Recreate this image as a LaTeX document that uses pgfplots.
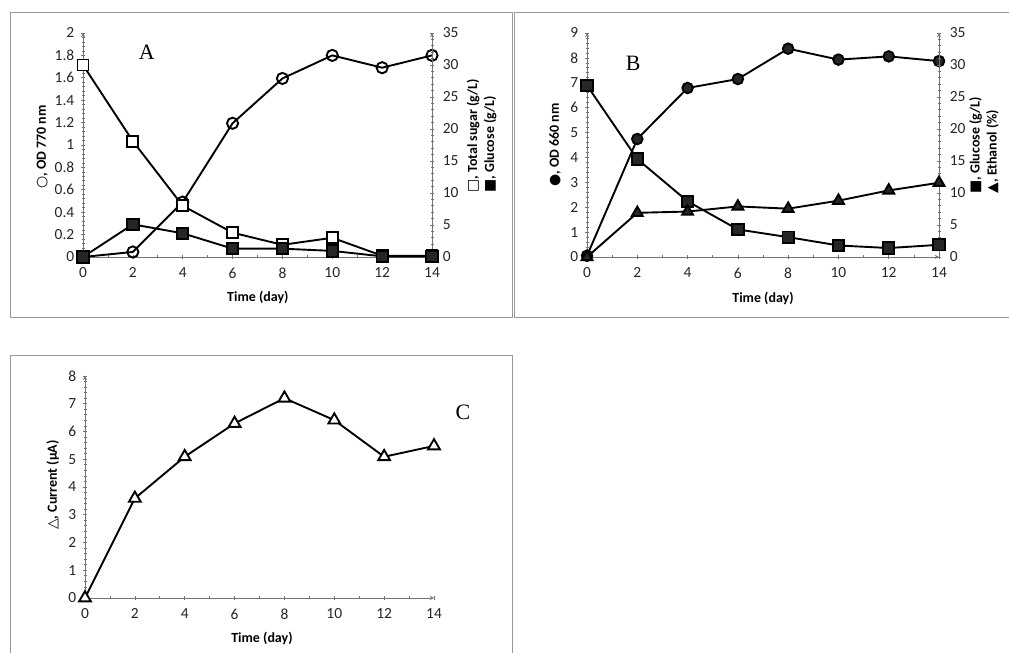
\documentclass[border=0pt]{standalone}
\usepackage{pgfplots}
\pgfplotsset{compat=1.18}
\usepackage{fontspec}
\setmainfont{Carlito}
\newfontfamily\sym{DejaVu Sans}
\newfontfamily\serif{Liberation Serif}
\newcommand\lab{\bfseries\fontsize{14}{17}\selectfont}

\pgfplotsset{
  panel/.style={
    scale only axis, clip=false,
    xmin=0, xmax=14,
    tick align=outside,
    major tick length=4.5bp, minor tick length=3bp,
    every tick/.style={black!55, line width=0.7pt},
    axis line style={-, black!55, line width=0.9pt},
    tick label style={font=\fontsize{15.5}{17}\selectfont, text=black!85},
    xticklabel style={yshift=-5bp},
    /pgf/number format/assume math mode=true,
  },
  bottomx/.style={axis x line=bottom, xtick={0,2,...,14}, minor x tick num=1,
    yticklabel style={xshift=-3bp}},
  nox/.style={axis x line=none, xtick=\empty},
  ser/.style={black, line width=1.9pt, mark options={solid, line width=1.3pt}},
}

\begin{document}
\begin{tikzpicture}[x=1bp,y=1bp]
\useasboundingbox (0,0) rectangle (1009,653);
\fill[white] (0,0) rectangle (1009,653);
% panel frames
\draw[black!40, line width=0.8pt] (10.5,336) rectangle (512,641);
\draw[black!40, line width=0.8pt] (1012,336) -- (514,336) -- (514,641) -- (1012,641);
\draw[black!40, line width=0.8pt] (10.5,-5) -- (10.5,298) -- (512,298) -- (512,-5);

% ===== Panel A =====
\begin{axis}[panel, bottomx, at={(83bp,396bp)}, anchor=south west,
  width=349bp, height=224bp,
  axis y line=left, ymin=0, ymax=2,
  ytick={0,0.2,0.4,0.6,0.8,1,1.2,1.4,1.6,1.8,2}, minor y tick num=4,
  xlabel={Time (day)},
  xlabel style={font=\lab, at={(axis description cs:0.501,-0.179)}, anchor=center},
  ylabel={{\sym ○}, OD 770 nm},
  ylabel style={font=\lab, at={(axis description cs:-0.117,0.491)}, anchor=center},
]
\addplot[ser, mark=o, mark size=5.6bp, mark options={fill=white}] coordinates {
(0,0) (2,0.045) (4,0.49) (6,1.194) (8,1.594) (10,1.8) (12,1.69) (14,1.8)};
\node[font=\serif\fontsize{22}{24}\selectfont] at (axis description cs:0.183,0.915) {A};
\end{axis}
\begin{axis}[panel, nox, at={(83bp,396bp)}, anchor=south west,
  width=349bp, height=224bp,
  axis y line=right, ymin=0, ymax=35,
  ytick={0,5,...,35}, minor y tick num=4,
  yticklabel style={xshift=5bp},
  ylabel={{\sym □}, Total sugar (g/L)\\{\sym ■}, Glucose (g/L)},
  ylabel style={font=\lab, at={(axis description cs:1.142,0.272)}, anchor=west, align=left},
]
\addplot[ser, mark=square*, mark size=5.5bp, mark options={fill=white}] coordinates {
(0,30.0) (2,18.1) (4,8.0) (6,3.8) (8,1.9) (10,3.0) (12,0.2) (14,0.2)};
\addplot[ser, mark=square*, mark size=5.7bp, mark options={fill=black!85}] coordinates {
(0,0) (2,5.1) (4,3.7) (6,1.3) (8,1.3) (10,0.95) (12,0.1) (14,0.1)};
\end{axis}

% ===== Panel B =====
\begin{axis}[panel, bottomx, at={(587bp,396bp)}, anchor=south west,
  width=352bp, height=224bp,
  axis y line=left, ymin=0, ymax=9,
  ytick={0,1,...,9}, minor y tick num=4,
  xlabel={Time (day)},
  xlabel style={font=\lab, at={(axis description cs:0.5,-0.183)}, anchor=center},
  ylabel={{\sym ●}, OD 660 nm},
  ylabel style={font=\lab, at={(axis description cs:-0.091,0.5)}, anchor=center},
]
\addplot[ser, mark=*, mark size=5.3bp, mark options={fill=black!85}] coordinates {
(0,0.05) (2,4.74) (4,6.79) (6,7.15) (8,8.37) (10,7.93) (12,8.06) (14,7.87)};
\node[font=\serif\fontsize{22}{24}\selectfont] at (axis description cs:0.131,0.866) {B};
\end{axis}
\begin{axis}[panel, nox, at={(587bp,396bp)}, anchor=south west,
  width=352bp, height=224bp,
  axis y line=right, ymin=0, ymax=35,
  ytick={0,5,...,35}, minor y tick num=4,
  yticklabel style={xshift=5bp},
  ylabel={{\sym ■}, Glucose (g/L)\\{\sym ▲}, Ethanol (\%)},
  ylabel style={font=\lab, at={(axis description cs:1.128,0.268)}, anchor=west, align=left},
]
\addplot[ser, mark=square*, mark size=5.7bp, mark options={fill=black!85}] coordinates {
(0,26.8) (2,15.3) (4,8.7) (6,4.3) (8,3.1) (10,1.8) (12,1.4) (14,1.9)};
\addplot[ser, mark=triangle*, mark size=6.3bp, mark options={fill=black!85}] coordinates {
(0,0) (2,6.9) (4,7.1) (6,7.9) (8,7.55) (10,8.8) (12,10.4) (14,11.6)};
\end{axis}

% ===== Panel C =====
\begin{axis}[panel, bottomx, at={(85bp,55bp)}, anchor=south west,
  width=349bp, height=222bp,
  axis y line=left, ymin=0, ymax=8,
  ytick={0,1,...,8}, minor y tick num=4,
  xlabel={Time (day)},
  xlabel style={font=\lab, at={(axis description cs:0.507,-0.18)}, anchor=center},
  ylabel={{\sym △}, Current (μA)},
  ylabel style={font=\lab, at={(axis description cs:-0.092,0.509)}, anchor=center},
]
\addplot[ser, mark=triangle*, mark size=6.8bp, mark options={fill=white}] coordinates {
(0,0) (2,3.59) (4,5.09) (6,6.29) (8,7.2) (10,6.41) (12,5.09) (14,5.48)};
\node[font=\serif\fontsize{22}{24}\selectfont] at (axis description cs:1.083,0.838) {C};
\end{axis}
\end{tikzpicture}
\end{document}
